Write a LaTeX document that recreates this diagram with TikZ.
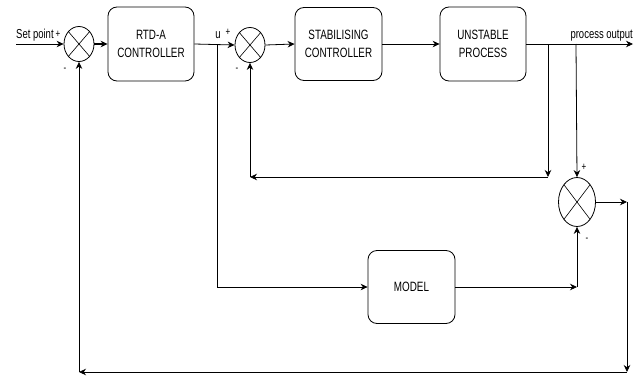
\documentclass[tikz,border=0pt]{standalone}
\usepackage{fontspec}
\setmainfont{Liberation Sans}[FakeStretch=0.73]
\usepackage{tikz}
\usetikzlibrary{shapes.geometric, arrows.meta, positioning, calc}

\begin{document}
\begin{tikzpicture}[x=1pt, y=-1pt,
  block/.style={rounded corners=9pt, draw=black, line width=0.8pt, align=center,
                minimum width=86pt, minimum height=74pt, inner sep=2pt,
                font=\fontsize{13.5}{17.5}\selectfont},
  sumj/.style={ellipse, draw=black, line width=0.8pt, minimum width=30pt, minimum height=35pt, inner sep=0pt,
               path picture={\draw[line width=0.6pt] (path picture bounding box.north west) -- (path picture bounding box.south east)
                                    (path picture bounding box.north east) -- (path picture bounding box.south west);}},
  arr/.style={-{Stealth[length=7pt, width=6.5pt]}, line width=0.8pt},
  lbl/.style={font=\fontsize{13}{14}\selectfont, inner sep=0pt},
  sgn/.style={font=\fontsize{11}{12}\selectfont, inner sep=0pt}
]
\useasboundingbox (0,0) rectangle (643,383);

% blocks and summing junctions
\node[sumj] (sumA) at (79,44) {};
\node[block] (rtda) at (151,44) {RTD-A\\CONTROLLER};
\node[sumj] (sumB) at (250,45) {};
\node[block, minimum width=87pt, minimum height=73pt] (stab) at (338.5,44) {STABILISING\\CONTROLLER};
\node[block] (plant) at (483,44) {UNSTABLE\\PROCESS};
\node[block, minimum width=87pt, minimum height=73pt] (model) at (411.5,287) {MODEL};
\node[sumj, minimum width=37pt, minimum height=49pt] (sumC) at (577,202) {};

% branch and bend points
\coordinate (sp) at (16,44);
\coordinate (ubr) at (217,44);
\coordinate (ubot) at (217,287);
\coordinate (ybrA) at (548,44);
\coordinate (ybrAd) at (548,177);
\coordinate (fbB) at (250,177);
\coordinate (ybrB) at (576,44);
\coordinate (yout) at (633,44);
\coordinate (mout) at (577,287);
\coordinate (eA) at (627,202);
\coordinate (eB) at (627,372);
\coordinate (eC) at (79,372);

% main path
\draw[arr] (sp) -- (sumA.west);
\draw[arr, line width=1.5pt] (sumA.east) -- (rtda.west);
\draw[arr] (rtda.east) -- (sumB.west);
\draw[arr] (sumB.east) -- (stab.west);
\draw[arr] (stab.east) -- (plant.west);
\draw[arr] (plant.east) -- (yout);

% inner loop
\draw[arr] (ybrA) -- (ybrAd);
\draw[arr] (ybrAd) -- (fbB);
\draw[arr] (fbB) -- (sumB.south);

% model path
\draw (ubr) -- (ubot);
\draw[arr] (ubot) -- (model.west);
\draw[arr] (model.east) -- (mout);
\draw[arr] (mout) -- (sumC.south);
\draw[arr] (ybrB) -- (sumC.north);

% outer loop
\draw[arr] (sumC.east |- eA) -- (eA);
\draw[arr] (eA) -- (eB);
\draw[arr] (eB) -- (eC);
\draw[arr] (eC) -- (sumA.south);

% labels
\node[lbl, anchor=base west] (lsp) at (16,38) {Set point};
\node[sgn] (pA) at (58,34) {+};
\node[sgn] (mA) at (65,70) {-};
\node[lbl, anchor=base] (lu) at (218,38) {u};
\node[sgn] (pB) at (228,32) {+};
\node[sgn] (mB) at (237,70) {-};
\node[lbl, anchor=base east] (lout) at (633,38) {process output};
\node[sgn] (pC) at (584,167) {+};
\node[sgn] (mC) at (587,240) {-};
\end{tikzpicture}
\end{document}
